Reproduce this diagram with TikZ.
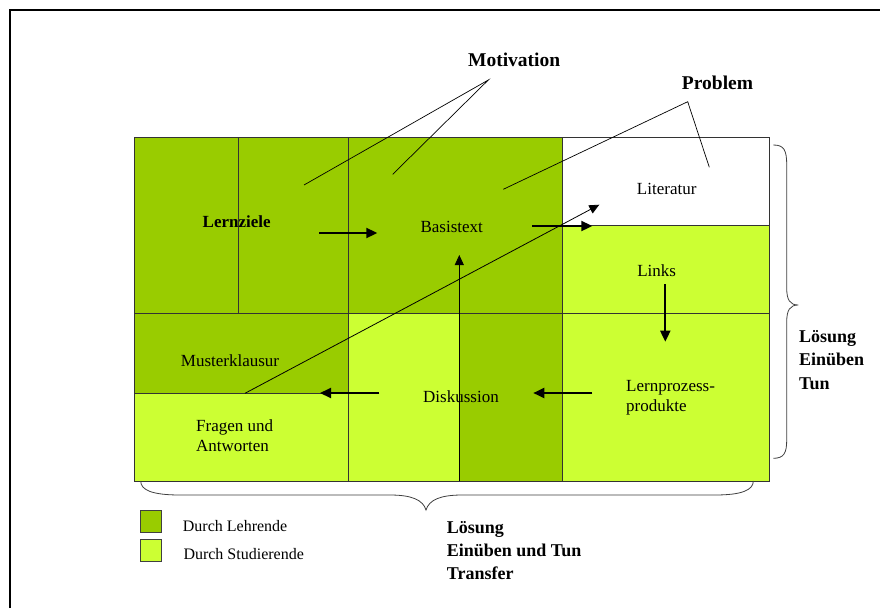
\documentclass[tikz,border=0pt]{standalone}
\usepackage{fontspec}
\setmainfont{Liberation Serif}
\usetikzlibrary{arrows.meta}
\definecolor{lehrend}{HTML}{99CC00}
\definecolor{studierend}{HTML}{CCFF33}
\begin{document}
\begin{tikzpicture}[x=1pt,y=-1pt,
  cellborder/.style={draw=black!80,line width=0.9pt},
  txt/.style={inner sep=0pt,font=\fontsize{17}{20}\selectfont},
  boldtxt/.style={inner sep=0pt,font=\fontsize{18}{23.3}\selectfont\bfseries,align=left},
  headtxt/.style={inner sep=0pt,font=\fontsize{19.5}{23}\selectfont\bfseries},
  flow/.style={line width=2pt,-{Triangle[length=11pt,width=10pt]}},
  thinflow/.style={line width=0.8pt,-{Triangle[length=10pt,width=9pt]}},
  callout/.style={line width=0.7pt},
  brace/.style={draw=black!75,line width=0.8pt},
  legendbox/.style={draw=black!75,line width=0.8pt}]
\useasboundingbox (0,0) rectangle (880,608);
\fill[white] (0,0) rectangle (880,608);

% outer frame (open at right and bottom)
\draw[line width=2pt] (10,608) -- (10,10) -- (880,10);

% cells of the grid
\path[cellborder,fill=lehrend] (134.7,137.7) rectangle (348.7,313.3);
\path[cellborder] (238.3,137.7) rectangle (348.7,313.3);
\path[cellborder,fill=lehrend] (348.7,137.7) rectangle (562.7,313.3);
\path[cellborder,fill=white] (562.7,137.7) rectangle (769,225.7);
\path[cellborder,fill=studierend] (562.7,225.7) rectangle (769,313.3);
\path[cellborder,fill=lehrend] (134.7,313.3) rectangle (348.7,393.3);
\path[cellborder,fill=studierend] (134.7,393.3) rectangle (348.7,481);
\path[cellborder,fill=studierend] (348.7,313.3) rectangle (562.7,481);
\path[cellborder,fill=lehrend] (459.3,313.3) rectangle (562.7,481);
\path[cellborder,fill=studierend] (562.7,313.3) rectangle (769,481);

% cell labels
\node[txt,font=\fontsize{17}{20}\selectfont\bfseries] (lernziele) at (236.7,221.7) {Lernziele};
\node[txt] (basistext) at (451.7,226.7) {Basistext};
\node[txt] (literatur) at (666.7,189.3) {Literatur};
\node[txt] (links) at (656.7,270.7) {Links};
\node[txt] (muster) at (230,360.7) {Musterklausur};
\node[txt,align=left,anchor=west] (fragen) at (196,436) {Fragen und\\Antworten};
\node[txt] (diskussion) at (461,396.7) {Diskussion};
\node[txt,align=left,anchor=west] (lernprozess) at (626,397.3) {Lernprozess-\\produkte};

% flow arrows
\coordinate (a1s) at (319,233);   \coordinate (a1e) at (377.3,233);
\coordinate (a2s) at (532.3,226); \coordinate (a2e) at (592.3,226);
\coordinate (a3s) at (665.3,284); \coordinate (a3e) at (665.3,341.7);
\coordinate (a4s) at (592.3,393); \coordinate (a4e) at (533.3,393);
\coordinate (a5s) at (379.3,393); \coordinate (a5e) at (320,393);
\coordinate (ups) at (459.3,481); \coordinate (upe) at (459.3,255);
\coordinate (dgs) at (245,393.3); \coordinate (dge) at (599.3,204.7);
\draw[flow] (a1s) -- (a1e);
\draw[flow] (a2s) -- (a2e);
\draw[flow] (a3s) -- (a3e);
\draw[flow] (a4s) -- (a4e);
\draw[flow] (a5s) -- (a5e);
\draw[thinflow] (ups) -- (upe);
\draw[thinflow] (dgs) -- (dge);

% headings with callout lines
\node[headtxt] (motivation) at (514.2,60) {Motivation};
\node[headtxt] (problem) at (717.5,83) {Problem};
\coordinate (mapex) at (488.3,80);
\coordinate (m1) at (304,185);
\coordinate (m2) at (392.7,174.3);
\coordinate (papex) at (687.7,101.7);
\coordinate (p1) at (709.3,167.3);
\coordinate (p2) at (503.3,189.3);
\draw[callout] (m1) -- (mapex) -- (m2);
\draw[callout] (p2) -- (papex) -- (p1);

% right brace
\draw[brace] (773.3,145) .. controls (784,145) and (786.7,150) .. (786.7,165)
  -- (786.7,288) .. controls (786.7,300) and (790,305) .. (798.3,305)
  .. controls (790,305) and (786.7,310) .. (786.7,322)
  -- (786.7,440) .. controls (786.7,453) and (784,458.3) .. (773.3,458.3);
\node[boldtxt,anchor=west] (loesungR) at (799,360) {Lösung\\Einüben\\Tun};

% bottom brace
\draw[brace] (140.7,481) .. controls (140.7,490) and (152,495) .. (180,495)
  -- (390,495) .. controls (412,495) and (423,500) .. (426,510)
  .. controls (429,500) and (440,495) .. (462,495)
  -- (715,495) .. controls (742,495) and (753.3,490) .. (753.3,481);
\node[boldtxt,anchor=west] (loesungB) at (446.7,550.7) {Lösung\\Einüben und Tun\\Transfer};

% legend
\path[legendbox,fill=lehrend] (140.7,510) rectangle (161.7,532.3);
\path[legendbox,fill=studierend] (140.7,539) rectangle (161.7,561);
\node[txt,anchor=west,font=\fontsize{16}{19}\selectfont] (lehrende) at (182.7,526) {Durch Lehrende};
\node[txt,anchor=west,font=\fontsize{16}{19}\selectfont] (studierende) at (183.3,554.3) {Durch Studierende};
\end{tikzpicture}
\end{document}
